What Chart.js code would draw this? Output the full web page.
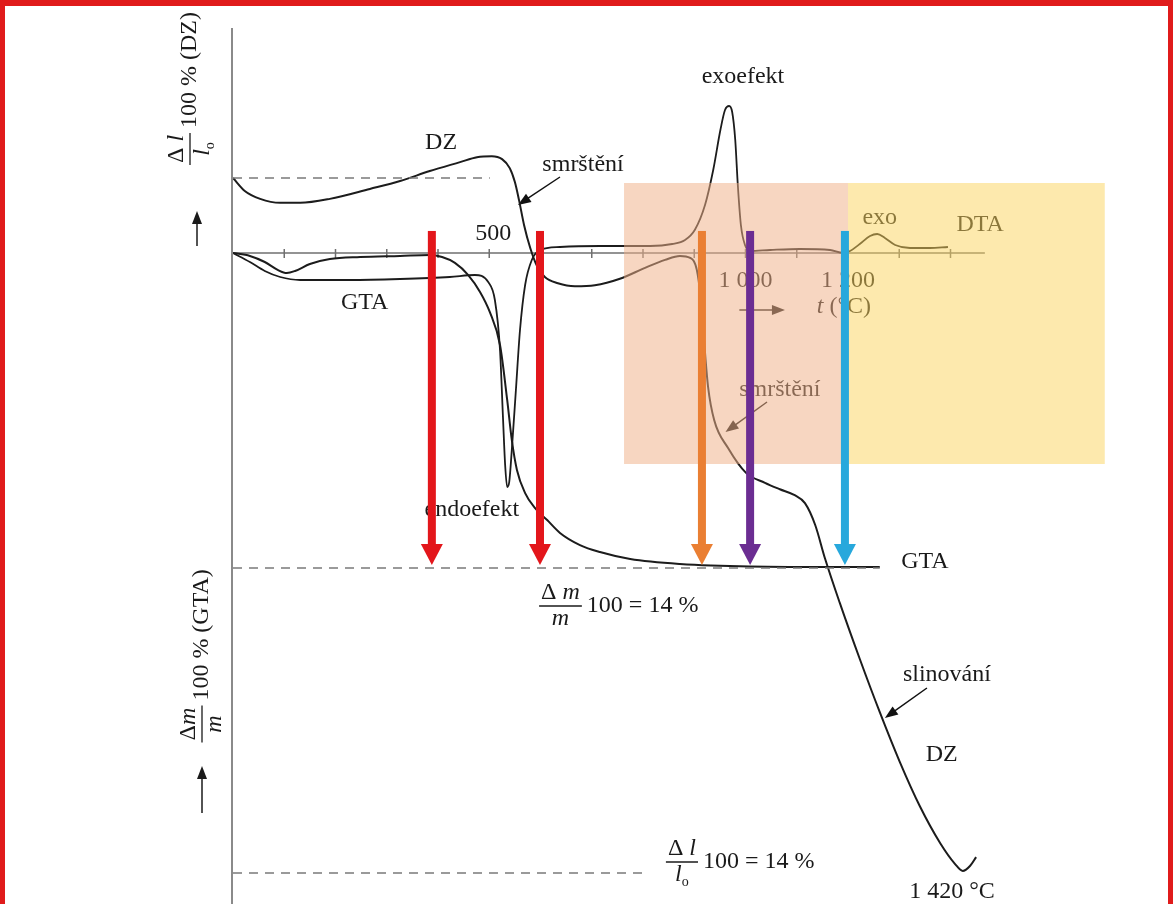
<!DOCTYPE html>
<html>
<head>
<meta charset="utf-8">
<script src="https://cdn.jsdelivr.net/npm/chart.js@4/dist/chart.umd.min.js"></script>
<style>
  html, body { margin: 0; padding: 0; background: #fff; }
  #wrap { width: 1173px; height: 904px; position: relative; }
  canvas { display: block; }
</style>
</head>
<body>
<div id="wrap"><canvas id="c" width="1173" height="904"></canvas></div>
<script>
// Thermal analysis of a ceramic body: DTA, GTA (mass loss) and DZ (dilatometry) vs temperature.

// DTA signal (relative units, endo negative / exo positive)
const dtaTemp   = [0, 33, 62, 92, 131, 228, 326, 423, 472, 498, 511, 521, 527, 531, 535, 539, 544, 552, 560, 570, 583, 599, 638, 716, 814, 857, 882, 901, 921, 937, 951, 960, 968, 974, 980, 985, 991, 999, 1009, 1048, 1106, 1165, 1190, 1204, 1223, 1243, 1257, 1272, 1292, 1321, 1360, 1395];
const dtaSignal = [0, -0.9, -1.8, -2.4, -2.7, -2.7, -2.6, -2.4, -2.2, -2.9, -4.7, -9.7, -16.7, -21.2, -23.4, -22.9, -19.7, -13.7, -7.7, -3.2, -0.7, 0.3, 0.6, 0.7, 0.7, 0.9, 1.3, 2.3, 4.8, 8.3, 12.3, 14.3, 14.7, 14.1, 11.3, 6.8, 2.8, 0.8, 0.2, 0.3, 0.4, 0.3, 0.0, 0.2, 0.9, 1.7, 1.9, 1.5, 0.8, 0.5, 0.5, 0.6];

// GTA: relative mass change Δm/m (%)
const gtaTemp = [0, 33, 62, 88, 105, 121, 150, 189, 248, 326, 384, 408, 433, 459, 482, 501, 521, 535, 544, 554, 570, 589, 613, 638, 677, 716, 775, 872, 1009, 1262];
const gtaLoss = [0, -0.13, -0.4, -0.76, -0.89, -0.8, -0.49, -0.27, -0.18, -0.13, -0.09, -0.18, -0.44, -0.98, -1.73, -2.62, -4.09, -6.53, -8.31, -9.64, -10.67, -11.33, -11.87, -12.44, -12.98, -13.29, -13.6, -13.82, -13.93, -13.96];

// DZ: relative length change Δl/l0 (%)
const dzTemp   = [0, 23, 53, 92, 131, 189, 267, 326, 384, 443, 476, 505, 525, 540, 550, 558, 568, 580, 593, 609, 634, 667, 706, 755, 804, 843, 872, 892, 905, 913, 919, 927, 939, 966, 1001, 1038, 1067, 1096, 1116, 1136, 1155, 1184, 1223, 1262, 1301, 1340, 1380, 1409, 1424, 1438, 1450];
const dzStrain = [0, -0.26, -0.42, -0.5, -0.5, -0.42, -0.22, -0.06, 0.14, 0.32, 0.42, 0.44, 0.38, 0.2, -0.08, -0.44, -0.95, -1.41, -1.77, -2.0, -2.12, -2.18, -2.16, -2.03, -1.81, -1.65, -1.57, -1.61, -1.85, -2.46, -3.26, -4.21, -4.88, -5.44, -5.94, -6.14, -6.27, -6.39, -6.55, -6.99, -7.66, -8.56, -9.69, -10.76, -11.76, -12.65, -13.4, -13.82, -13.96, -13.86, -13.68];

// Temperature axis
const tickTemps = [100, 200, 300, 400, 500, 600, 700, 800, 900, 1000, 1100, 1200, 1300, 1400];
const tickLabelTemps = [500, 1000, 1200];
const tickLabelTexts = ['500', '1 000', '1 200'];
const axisEndTemp = 1467;

// Reference levels: 14 % loss/shrinkage
const totalChange = -14;

// Marked temperatures (vertical arrows) and highlighted temperature zones
const arrowTemps  = [388, 599, 915, 1009, 1194];
const arrowColors = ['#e3161b', '#e3161b', '#ea7f33', '#6b2d92', '#27a8dc'];
const zoneStarts  = [763, 1200];
const zoneEnds    = [1200, 1701];
const zoneColors  = ['rgba(240,176,136,0.52)', 'rgba(251,212,92,0.5)'];

const SERIF = '"Liberation Serif", "Times New Roman", serif';
const FS = 24;

function xy(a, b) { return a.map((t, i) => ({ x: t, y: b[i] })); }

function runsWidth(ctx, runs, size) {
  let w = 0;
  for (const r of runs) {
    ctx.font = (r.it ? 'italic ' : '') + (r.sub ? Math.round(size * 0.6) : size) + 'px ' + SERIF;
    w += ctx.measureText(r.t).width;
  }
  return w;
}
function drawRuns(ctx, runs, x, y, align, size) {
  size = size || FS;
  const w = runsWidth(ctx, runs, size);
  let cx = align === 'center' ? x - w / 2 : (align === 'right' ? x - w : x);
  ctx.textAlign = 'left';
  ctx.textBaseline = 'middle';
  for (const r of runs) {
    ctx.font = (r.it ? 'italic ' : '') + (r.sub ? Math.round(size * 0.6) : size) + 'px ' + SERIF;
    ctx.fillText(r.t, cx, y + (r.sub ? size * 0.35 : 0));
    cx += ctx.measureText(r.t).width;
  }
  return w;
}
function drawFraction(ctx, cx, cy, num, den, after, size) {
  size = size || FS;
  const w = Math.max(runsWidth(ctx, num, size), runsWidth(ctx, den, size)) + 4;
  drawRuns(ctx, num, cx, cy - size * 0.5, 'center', size);
  drawRuns(ctx, den, cx, cy + size * 0.55, 'center', size);
  ctx.save();
  ctx.lineWidth = 1.3;
  ctx.beginPath();
  ctx.moveTo(cx - w / 2, cy + 1);
  ctx.lineTo(cx + w / 2, cy + 1);
  ctx.stroke();
  ctx.restore();
  if (after) drawRuns(ctx, [{ t: after }], cx + w / 2 + 5, cy + 1, 'left', size);
}
function pointer(ctx, x0, y0, x1, y1, color) {
  const ang = Math.atan2(y1 - y0, x1 - x0);
  const L = 13, W = 5;
  ctx.save();
  ctx.strokeStyle = color; ctx.fillStyle = color; ctx.lineWidth = 1.5;
  ctx.beginPath();
  ctx.moveTo(x0, y0);
  ctx.lineTo(x1 - Math.cos(ang) * L * 0.8, y1 - Math.sin(ang) * L * 0.8);
  ctx.stroke();
  ctx.beginPath();
  ctx.moveTo(x1, y1);
  ctx.lineTo(x1 - Math.cos(ang) * L - Math.sin(ang) * W, y1 - Math.sin(ang) * L + Math.cos(ang) * W);
  ctx.lineTo(x1 - Math.cos(ang) * L + Math.sin(ang) * W, y1 - Math.sin(ang) * L - Math.cos(ang) * W);
  ctx.closePath();
  ctx.fill();
  ctx.restore();
}

// Text annotations, placed by temperature (x) and DTA-scale value (y)
const notes = [
  { text: 'DZ', t: 406, v: 11.0 },
  { text: 'smrštění', t: 683, v: 8.8 },
  { text: 'exoefekt', t: 995, v: 17.6 },
  { text: 'exo', t: 1262, v: 3.5 },
  { text: 'DTA', t: 1458, v: 2.8 },
  { text: 'GTA', t: 257, v: -5.0 },
  { text: 'smrštění', t: 1067, v: -13.7 },
  { text: 'endoefekt', t: 466, v: -25.7 },
  { text: 'GTA', t: 1350, v: -30.9 },
  { text: 'slinování', t: 1393, v: -42.2 },
  { text: 'DZ', t: 1383, v: -50.2 },
  { text: '1 420 °C', t: 1403, v: -63.9 }
];
// Leader arrows: [t0, v0, t1, v1]
const leaders = [
  [638, 7.6, 556, 4.8],
  [1042, -14.9, 961, -17.9],
  [1354, -43.5, 1272, -46.5]
];

const backgroundLayer = {
  id: 'backgroundLayer',
  beforeDatasetsDraw(chart) {
    const { ctx, scales } = chart;
    const X = v => scales.x.getPixelForValue(v);
    const Y = v => scales.yDTA.getPixelForValue(v);
    ctx.save();
    // vertical axis
    ctx.strokeStyle = '#8a8a8a'; ctx.lineWidth = 2;
    ctx.beginPath(); ctx.moveTo(X(0) - 1, 28); ctx.lineTo(X(0) - 1, 904); ctx.stroke();
    // temperature axis with ticks
    ctx.strokeStyle = '#6f6f6f'; ctx.lineWidth = 1.5;
    ctx.beginPath(); ctx.moveTo(X(0), Y(0)); ctx.lineTo(X(axisEndTemp), Y(0)); ctx.stroke();
    for (const t of tickTemps) {
      ctx.beginPath(); ctx.moveTo(X(t), Y(0) - 4); ctx.lineTo(X(t), Y(0) + 5); ctx.stroke();
    }
    ctx.fillStyle = '#1a1a1a';
    tickLabelTemps.forEach((t, i) => {
      const above = i === 0;
      drawRuns(ctx, [{ t: tickLabelTexts[i] }], X(t) + (above ? 4 : 0), Y(0) + (above ? -19 : 28), 'center');
    });
    // t (°C) with direction arrow
    drawRuns(ctx, [{ t: 't', it: true }, { t: ' (°C)' }], X(1192), Y(-5.4), 'center');
    pointer(ctx, X(988), Y(-5.7), X(1077), Y(-5.7), '#1a1a1a');
    // labels
    for (const n of notes) drawRuns(ctx, [{ t: n.text }], X(n.t), Y(n.v), 'center');
    for (const l of leaders) pointer(ctx, X(l[0]), Y(l[1]), X(l[2]), Y(l[3]), '#111');
    // 14 % statements
    ctx.strokeStyle = '#1a1a1a';
    drawFraction(ctx, X(639), Y(-35.2), [{ t: 'Δ ' }, { t: 'm', it: true }], [{ t: 'm', it: true }], '100 = 14 %');
    drawFraction(ctx, X(876), Y(-60.8), [{ t: 'Δ ' }, { t: 'l', it: true }], [{ t: 'l', it: true }, { t: 'o', sub: true }], '100 = 14 %');
    // rotated axis captions
    ctx.save();
    ctx.translate(189, 149); ctx.rotate(-Math.PI / 2);
    drawFraction(ctx, 0, 0, [{ t: 'Δ ' }, { t: 'l', it: true }], [{ t: 'l', it: true }, { t: 'o', sub: true }], '100 % (DZ)');
    ctx.restore();
    pointer(ctx, 197, 246, 197, 211, '#1a1a1a');
    ctx.save();
    ctx.translate(201, 724); ctx.rotate(-Math.PI / 2);
    drawFraction(ctx, 0, 0, [{ t: 'Δ' }, { t: 'm', it: true }], [{ t: 'm', it: true }], '100 % (GTA)');
    ctx.restore();
    pointer(ctx, 202, 813, 202, 766, '#1a1a1a');
    ctx.restore();
  }
};

const overlayLayer = {
  id: 'overlayLayer',
  afterDatasetsDraw(chart) {
    const { ctx, scales } = chart;
    const X = v => scales.x.getPixelForValue(v);
    const Yd = v => scales.yDTA.getPixelForValue(v);
    const Yg = v => scales.yGTA.getPixelForValue(v);
    ctx.save();
    // temperature zones
    zoneStarts.forEach((t0, i) => {
      ctx.fillStyle = zoneColors[i];
      const top = Yd(7.0), bot = Yd(-21.1);
      ctx.fillRect(X(t0), top, X(zoneEnds[i]) - X(t0), bot - top);
    });
    // vertical arrows down to the 14 % mass loss level
    arrowTemps.forEach((t, i) => {
      const x = X(t), top = Yg(0.98), tip = Yg(totalChange + 0.13);
      ctx.fillStyle = arrowColors[i];
      ctx.fillRect(x - 4, top, 8, tip - 19 - top);
      ctx.beginPath();
      ctx.moveTo(x - 11, tip - 21); ctx.lineTo(x + 11, tip - 21); ctx.lineTo(x, tip);
      ctx.closePath(); ctx.fill();
    });
    ctx.restore();
  },
  afterDraw(chart) {
    const ctx = chart.ctx;
    ctx.save();
    ctx.fillStyle = '#e01b1b';
    ctx.fillRect(0, 0, 1173, 6);
    ctx.fillRect(0, 0, 5, 904);
    ctx.fillRect(1168, 0, 5, 904);
    ctx.restore();
  }
};

const curve = { pointRadius: 0, borderColor: '#1c1c1c', borderWidth: 2, fill: false, cubicInterpolationMode: 'monotone' };
const dashed = { pointRadius: 0, borderColor: '#7a7a7a', borderWidth: 1.5, borderDash: [9, 7], fill: false, tension: 0 };

new Chart(document.getElementById('c'), {
  type: 'line',
  data: {
    datasets: [
      Object.assign({ label: 'DZ 0 %', yAxisID: 'yDZ', data: [{ x: 0, y: 0 }, { x: 501, y: 0 }] }, dashed),
      Object.assign({ label: 'GTA 14 %', yAxisID: 'yGTA', data: [{ x: 0, y: totalChange }, { x: 1262, y: totalChange }] }, dashed),
      Object.assign({ label: 'DZ 14 %', yAxisID: 'yDZ', data: [{ x: 0, y: totalChange }, { x: 808, y: totalChange }] }, dashed),
      Object.assign({ label: 'DTA', yAxisID: 'yDTA', data: xy(dtaTemp, dtaSignal) }, curve, { borderWidth: 1.8 }),
      Object.assign({ label: 'GTA', yAxisID: 'yGTA', data: xy(gtaTemp, gtaLoss) }, curve),
      Object.assign({ label: 'DZ', yAxisID: 'yDZ', data: xy(dzTemp, dzStrain) }, curve)
    ]
  },
  options: {
    responsive: false,
    animation: false,
    devicePixelRatio: 1,
    layout: { padding: { left: 233, right: 17.5, top: 28, bottom: 0 } },
    plugins: { legend: { display: false }, tooltip: { enabled: false } },
    scales: {
      x: { type: 'linear', min: 0, max: 1800, display: false },
      yDZ: { type: 'linear', min: -14.625, max: 3.022, display: false },
      yGTA: { type: 'linear', min: -28.933, max: 10, display: false },
      yDTA: { type: 'linear', min: -65.1, max: 22.5, display: false }
    }
  },
  plugins: [backgroundLayer, overlayLayer]
});
</script>
</body>
</html>
